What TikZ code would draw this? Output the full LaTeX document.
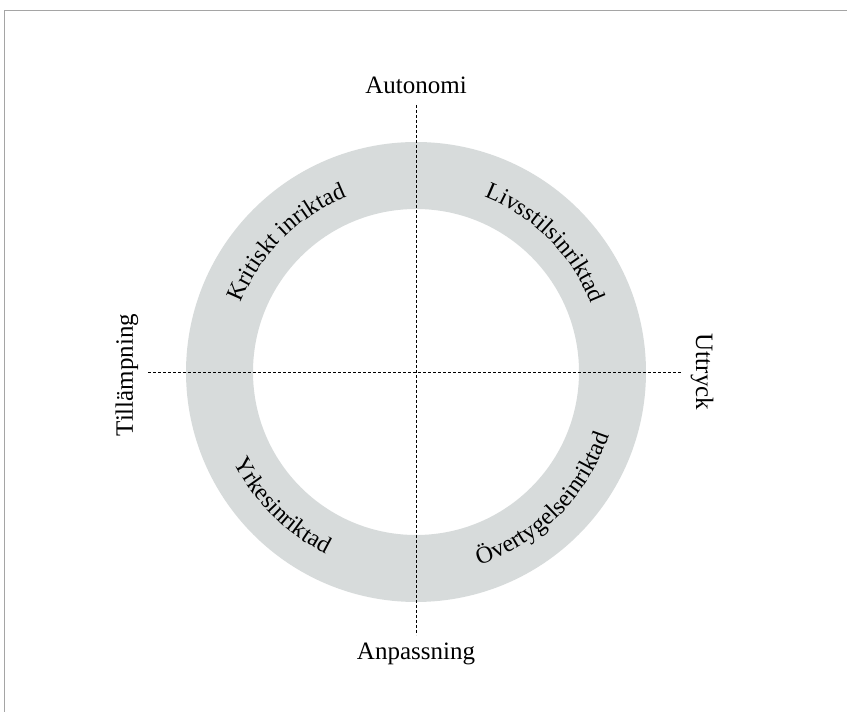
\documentclass[tikz,border=0pt]{standalone}
\usepackage{fontspec}
\setmainfont{Liberation Serif}
\usetikzlibrary{decorations.text}
\definecolor{ringgray}{RGB}{215,219,219}
\definecolor{framegray}{RGB}{165,165,165}
\newcommand{\ringfont}{\fontsize{25}{30}\selectfont}
\newcommand{\arcfont}{\fontsize{24}{28}\selectfont}

\begin{document}
\begin{tikzpicture}
[x=1pt,y=1pt,
every node/.style={font=\ringfont,inner sep=0pt},
axis/.style={line width=0.9pt,dash pattern=on 3pt off 2pt},
ringtext/.style={decorate,decoration={text along path,text align=center,text={|\arcfont|#1}}},
]
\useasboundingbox (0,0) rectangle (847,712);
\draw[framegray,line width=1pt] (4.5,0) -- (4.5,701.5) -- (847,701.5);
\coordinate (c) at (416,340);
\fill[ringgray,even odd rule] (c) circle (230) (c) circle (163);
\coordinate (ax-n) at (416,607);
\coordinate (ax-s) at (416,77);
\coordinate (ax-w) at (148,340);
\coordinate (ax-e) at (681,340);
\draw[axis] (ax-n) -- (ax-s);
\draw[axis] (ax-w) -- (ax-e);
\node (autonomi) at (416,627) {Autonomi};
\node (anpassning) at (416,58) {Anpassning};
\node[rotate=90] (tillampning) at (127,337) {Tillämpning};
\node[rotate=-90] (uttryck) at (702,340) {Uttryck};
\path[ringtext={Kritiskt inriktad}] ([shift={(180:188)}]c) arc (180:90:188);
\path[ringtext={Livsstilsinriktad}] ([shift={(90:188)}]c) arc (90:0:188);
\path[ringtext={Yrkesinriktad}] ([shift={(180:203)}]c) arc (180:270:203);
\path[ringtext={Övertygelseinriktad}] ([shift={(270:203)}]c) arc (270:360:203);
\end{tikzpicture}
\end{document}
